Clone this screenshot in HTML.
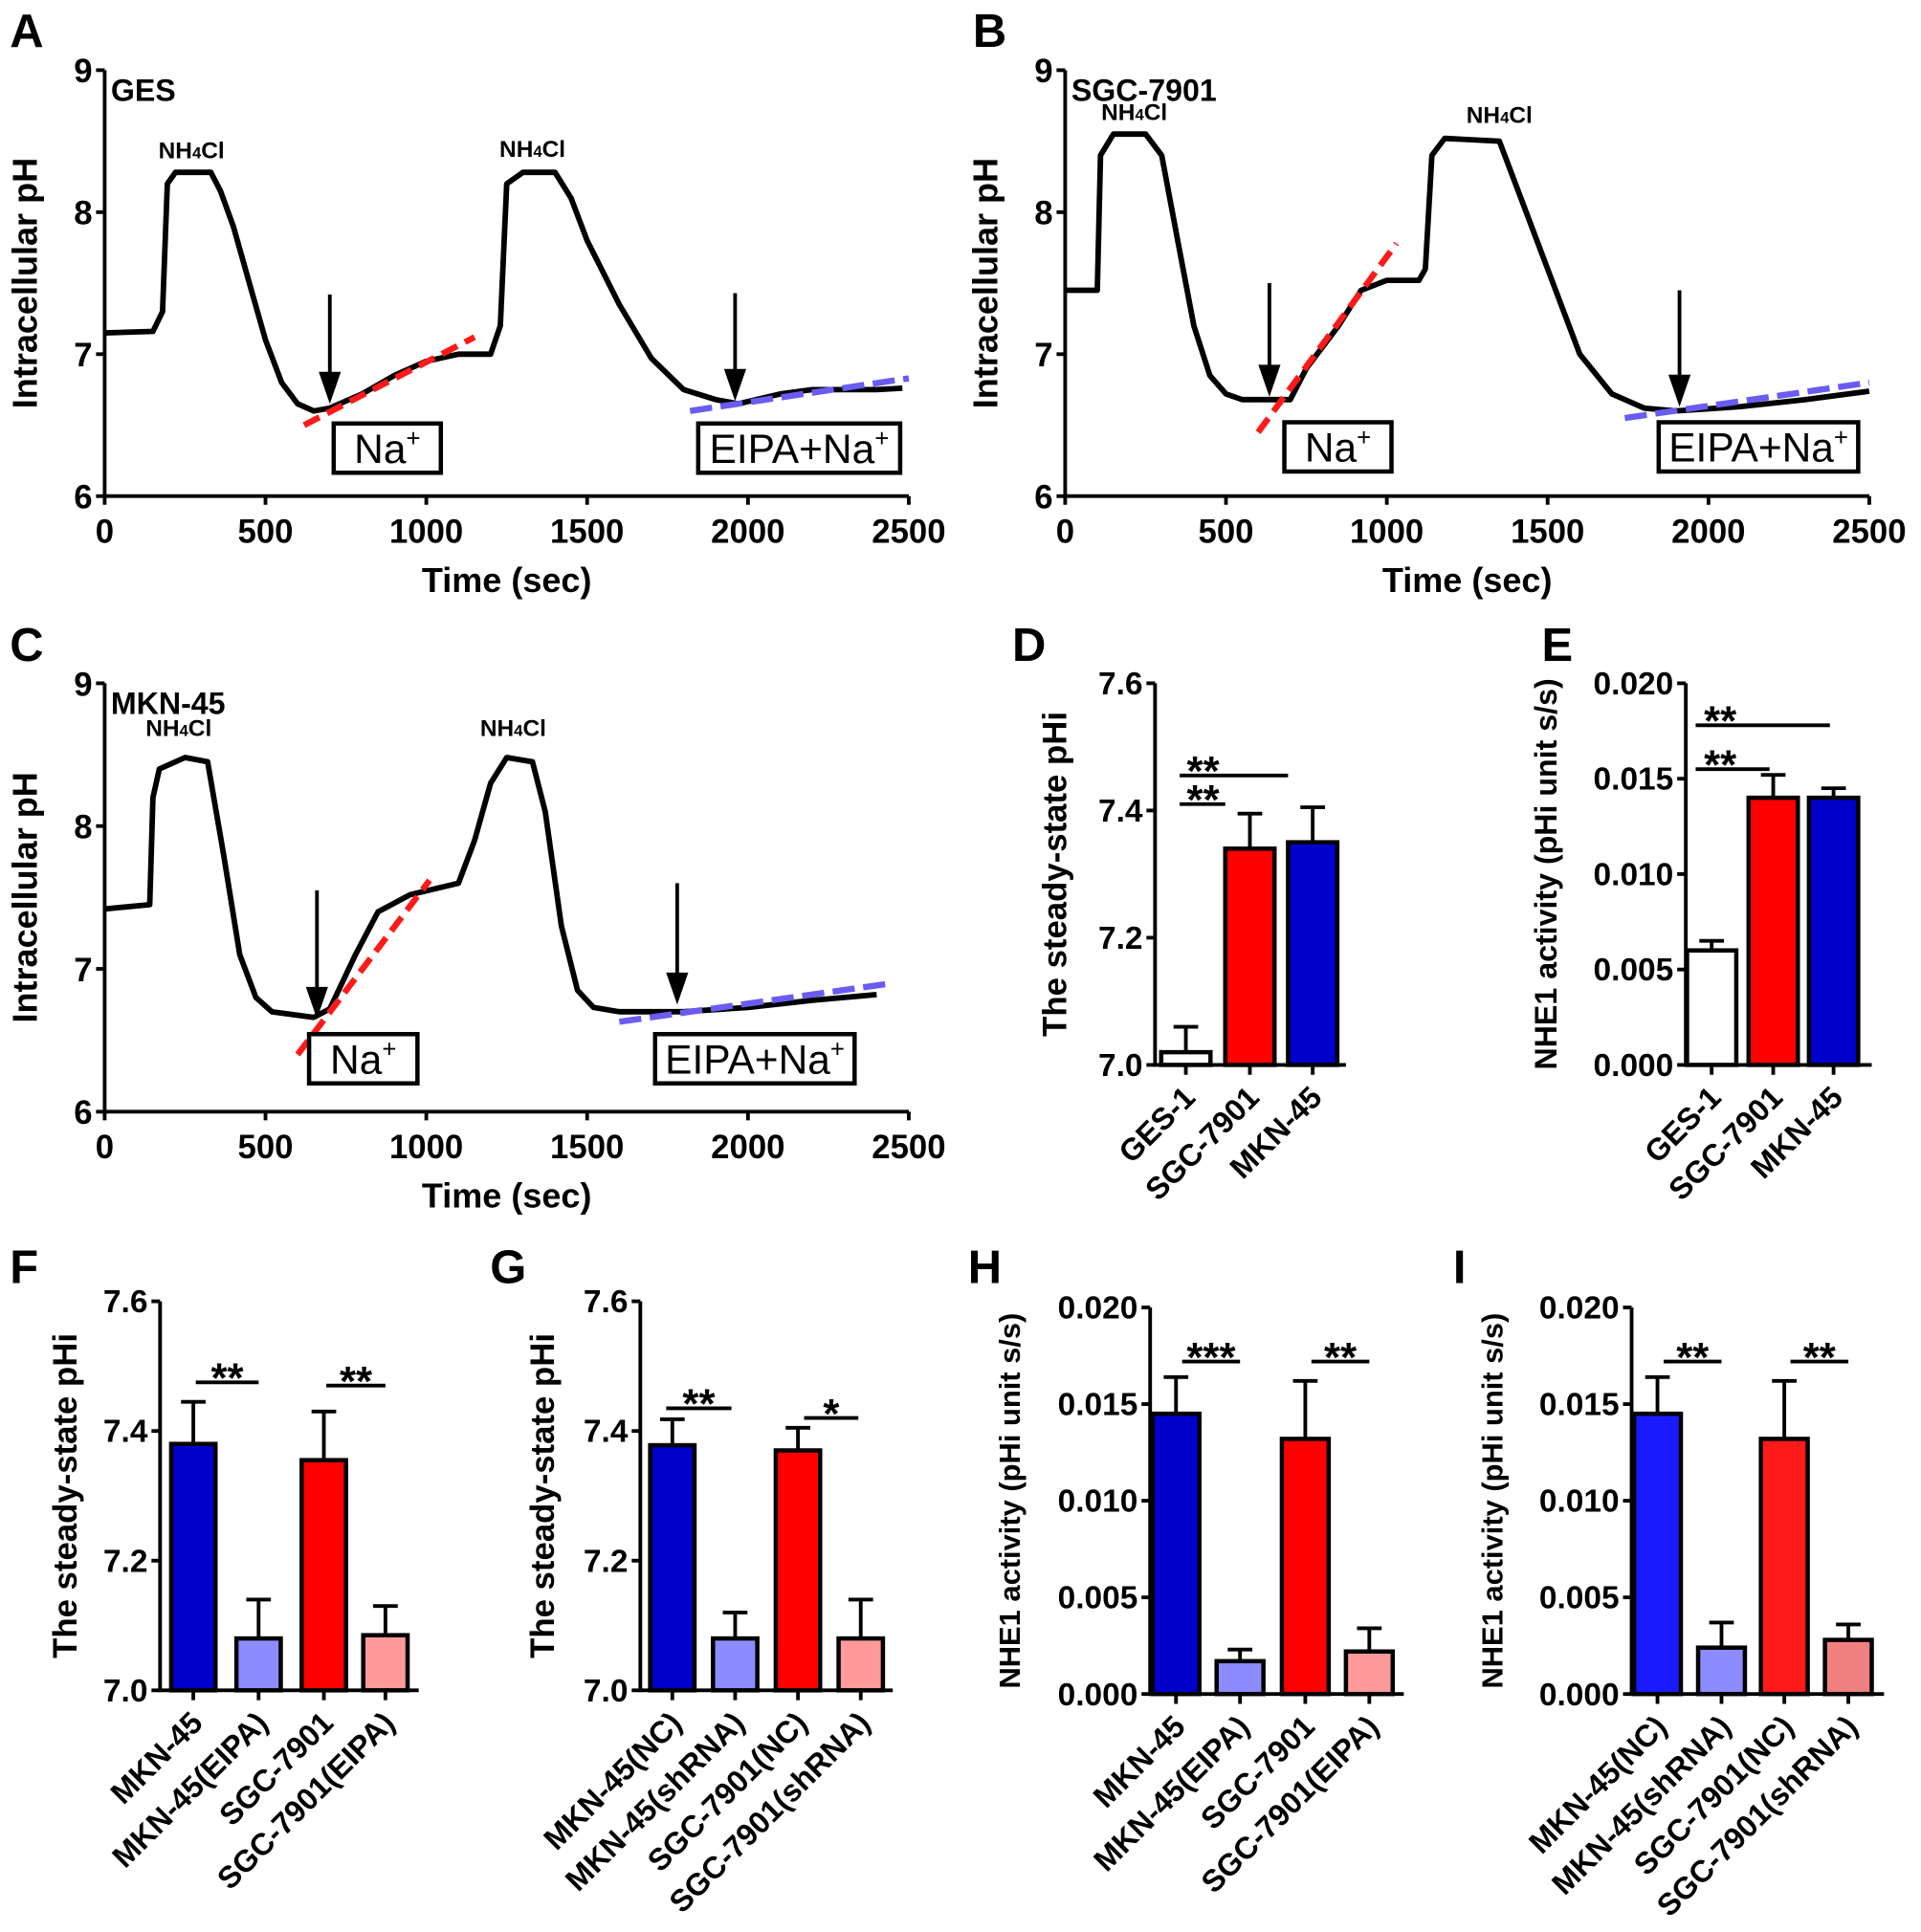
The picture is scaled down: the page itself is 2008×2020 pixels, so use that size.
<!DOCTYPE html>
<html><head><meta charset="utf-8"><style>
html,body{margin:0;padding:0;background:#fff}
svg{display:block}
text{font-family:"Liberation Sans",Arial,sans-serif;font-weight:bold;fill:#000}
</style></head><body>
<svg id="fig" width="2008" height="2020" viewBox="0 0 1560 1569.3" preserveAspectRatio="none" xmlns="http://www.w3.org/2000/svg"></svg>
<script>
// ---- Line trace data (time sec, pH) ----
const traceA_t=[0,150,180,195,220,330,360,400,450,500,550,600,650,700,800,900,1000,1100,1200,1230,1250,1300,1400,1450,1500,1600,1700,1800,1900,1970,2100,2200,2400,2480];
const traceA_v=[7.15,7.16,7.3,8.2,8.28,8.28,8.15,7.9,7.5,7.1,6.8,6.65,6.6,6.62,6.72,6.85,6.95,7.0,7.0,7.2,8.2,8.28,8.28,8.1,7.8,7.35,6.97,6.75,6.68,6.65,6.72,6.75,6.75,6.76];
const traceB_t=[0,100,110,150,250,300,350,400,450,500,550,700,750,850,920,1000,1100,1120,1140,1180,1350,1400,1500,1600,1700,1800,1900,2100,2300,2500];
const traceB_v=[7.45,7.45,8.4,8.55,8.55,8.4,7.8,7.2,6.85,6.72,6.68,6.68,6.9,7.2,7.45,7.52,7.52,7.6,8.4,8.52,8.5,8.2,7.6,7.0,6.72,6.62,6.6,6.63,6.68,6.74];
const traceC_t=[0,140,150,170,250,320,370,420,470,520,650,700,780,850,950,1100,1150,1200,1250,1330,1370,1420,1470,1520,1600,1800,2000,2200,2400];
const traceC_v=[7.42,7.45,8.2,8.4,8.48,8.45,7.8,7.1,6.8,6.7,6.66,6.72,7.1,7.4,7.52,7.6,7.9,8.3,8.48,8.45,8.1,7.3,6.85,6.73,6.7,6.7,6.73,6.78,6.82];
// fit lines [t0,v0,t1,v1]
const redA=[620,6.5,1150,7.12], blueA=[1820,6.6,2500,6.83];
const redB=[600,6.45,1030,7.78], blueB=[1740,6.55,2500,6.8];
const redC=[600,6.4,1010,7.62], blueC=[1600,6.63,2450,6.9];
// arrows [t, fromV, toV]
const arrowsA=[[700,7.42,6.65],[1960,7.43,6.67]];
const arrowsB=[[635,7.5,6.7],[1910,7.45,6.63]];
const arrowsC=[[660,7.55,6.65],[1780,7.6,6.75]];
const timeTicks=[0,500,1000,1500,2000,2500];
const phTicks=[6,7,8,9];

// ---- Bar data ----
const catsD=["GES-1","SGC-7901","MKN-45"];
const valsD=[7.02,7.34,7.35]; const errD=[0.04,0.055,0.055];
const valsE=[0.006,0.014,0.014]; const errE=[0.0005,0.0012,0.0005];
const catsF=["MKN-45","MKN-45(EIPA)","SGC-7901","SGC-7901(EIPA)"];
const valsF=[7.38,7.08,7.355,7.085]; const errF=[0.065,0.06,0.075,0.045];
const catsG=["MKN-45(NC)","MKN-45(shRNA)","SGC-7901(NC)","SGC-7901(shRNA)"];
const valsG=[7.378,7.08,7.37,7.08]; const errG=[0.04,0.04,0.035,0.06];
const valsH=[0.0145,0.0017,0.0132,0.0022]; const errH=[0.0019,0.0006,0.003,0.0012];
const valsI=[0.0145,0.0024,0.0132,0.0028]; const errI=[0.0019,0.0013,0.003,0.0008];
const phiTicks=["7.0","7.2","7.4","7.6"];
const actTicks=["0.000","0.005","0.010","0.015","0.020"];

const NS="http://www.w3.org/2000/svg";
const svg=document.getElementById('fig');
function el(tag,attrs,parent,txt){const e=document.createElementNS(NS,tag);for(const k in attrs)e.setAttribute(k,attrs[k]);if(txt!==undefined)e.textContent=txt;(parent||svg).appendChild(e);return e;}
function letter(ch,x,y){const t=el('text',{x:x,y:y,'font-size':38},svg,ch);

}

function linePanel(o){
  const g=el('g',{});
  
  
  const sx=t=>o.x0+(t-0)/2500*(o.x1-o.x0);
  const sy=v=>o.yb+(v-6)/3*(o.yt-o.yb);
  const ax=el('path',{d:`M${o.x0},${o.yt} V${o.yb} H${o.x1}`,stroke:'#000','stroke-width':3,fill:'none'},g);
   
  phTicks.forEach(v=>{el('line',{x1:o.x0-7,x2:o.x0,y1:sy(v),y2:sy(v),stroke:'#000','stroke-width':3},g);
    const t=el('text',{x:o.x0-10,y:sy(v)+10,'font-size':27,'text-anchor':'end'},g,v);
     });
  timeTicks.forEach(v=>{el('line',{x1:sx(v),x2:sx(v),y1:o.yb,y2:o.yb+7,stroke:'#000','stroke-width':3},g);
    const t=el('text',{x:sx(v),y:o.yb+38,'font-size':27,'text-anchor':'middle'},g,v);
     });
  const xt=el('text',{x:(o.x0+o.x1)/2,y:o.yb+78,'font-size':28,'text-anchor':'middle'},g,'Time (sec)');
   
  const cy=(o.yt+o.yb)/2, cx=o.x0-55;
  const yt=el('text',{x:cx,y:cy,'font-size':28,'text-anchor':'middle',transform:`rotate(-90 ${cx} ${cy})`},g,'Intracellular pH');
   
  let d=''; o.t.forEach((t,i)=>{d+=(i?'L':'M')+sx(t).toFixed(1)+','+sy(o.v[i]).toFixed(1);});
  const tr=el('path',{d:d,stroke:'#000','stroke-width':4.5,fill:'none','stroke-linejoin':'round'},g);
   
  const r=el('line',{x1:sx(o.red[0]),y1:sy(o.red[1]),x2:sx(o.red[2]),y2:sy(o.red[3]),stroke:'#ff1a1a','stroke-width':5,'stroke-dasharray':'14,7'},g);
   
  const b=el('line',{x1:sx(o.blue[0]),y1:sy(o.blue[1]),x2:sx(o.blue[2]),y2:sy(o.blue[3]),stroke:'#6a5cf0','stroke-width':5,'stroke-dasharray':'18,7'},g);
   
  o.arrows.forEach(a=>{const x=sx(a[0]),y0=sy(a[1]),y1=sy(a[2]);
    const ag=el('g',{},g);  
    el('line',{x1:x,x2:x,y1:y0,y2:y1-22,stroke:'#000','stroke-width':3},ag);
    el('path',{d:`M${x-9},${y1-26} L${x+9},${y1-26} L${x},${y1} Z`,fill:'#000'},ag);});
  o.nh.forEach(n=>{const t=el('text',{x:sx(n[0]),y:sy(n[1]),'font-size':19,'text-anchor':'middle'},g);
     
    t.innerHTML='NH<tspan font-size="13">4</tspan>Cl';});
  const cl=el('text',{x:o.x0+5,y:o.yt+25,'font-size':25},g,o.cell);
   
  o.boxes.forEach(bx=>{const bg=el('g',{},g);  
    el('rect',{x:bx[0],y:bx[1],width:bx[2],height:40,fill:'#fff',stroke:'#000','stroke-width':3.5},bg);
    const t=el('text',{x:bx[0]+bx[2]/2,y:bx[1]+32,'font-size':33,'text-anchor':'middle',style:'font-weight:normal'},bg);
    t.innerHTML=bx[3]+'<tspan font-size="20" dy="-13">+</tspan>';});
}

function barPanel(o){
  const g=el('g',{});
  
  
  const sy=v=>o.yb+(v-o.min)/(o.max-o.min)*(o.yt-o.yb);
  const ax=el('path',{d:`M${o.x0},${o.yt} V${o.yb} H${o.x1}`,stroke:'#000','stroke-width':3,fill:'none'},g);
   
  o.ticks.forEach(s=>{const v=parseFloat(s),y=sy(v);
    el('line',{x1:o.x0-7,x2:o.x0,y1:y,y2:y,stroke:'#000','stroke-width':3},g);
    const t=el('text',{x:o.x0-10,y:y+9,'font-size':26,'text-anchor':'end'},g,s);
     });
  const cy=(o.yt+o.yb)/2, cx=o.tx;
  const yt=el('text',{x:cx,y:cy,'font-size':o.tfs||27,'text-anchor':'middle',transform:`rotate(-90 ${cx} ${cy})`},g,o.title);
   
  o.vals.forEach((v,i)=>{const c=o.centers[i],w=o.bw;
    const y=sy(v),ye=sy(v+o.err[i]);
    el('line',{x1:c,x2:c,y1:y,y2:ye,stroke:'#000','stroke-width':3},g);
    el('line',{x1:c-10,x2:c+10,y1:ye,y2:ye,stroke:'#000','stroke-width':3},g);
    const r=el('rect',{x:c-w/2,y:y,width:w,height:o.yb-y,fill:o.colors[i],stroke:'#000','stroke-width':3.5},g);
    
    
    el('line',{x1:c,x2:c,y1:o.yb,y2:o.yb+8,stroke:'#000','stroke-width':3},g);
    const lx=c+9,ly=o.yb+28;
    const t=el('text',{x:lx,y:ly,'font-size':o.lfs||25,'text-anchor':'end',transform:`rotate(-45 ${lx} ${ly})`},g,o.cats[i]);
     });
  o.sig.forEach(s=>{const y=sy(s[2]);const xa=o.centers[s[0]]-(s[4]||0),xb=o.centers[s[1]]+(s[5]||0);
    const sg=el('g',{},g);  
    el('line',{x1:xa,x2:xb,y1:y,y2:y,stroke:'#000','stroke-width':3},sg);
    el('text',{x:s[6]!==undefined?s[6]:(xa+xb)/2,y:y+8,'font-size':34,'text-anchor':'middle'},sg,s[3]);});
}

letter('A',8,38); letter('B',790,38); letter('C',8,537); letter('D',822,537); letter('E',1252,537);
letter('F',8,1042); letter('G',398,1042); letter('H',786,1042); letter('I',1180,1042);

linePanel({id:'a',x0:85,x1:738,yt:57,yb:403,t:traceA_t,v:traceA_v,red:redA,blue:blueA,arrows:arrowsA,
  nh:[[270,8.38],[1330,8.39]],cell:'GES',boxes:[[271,344,87,'Na','na-box'],[567,344,164,'EIPA+Na','eipa-na-box']]});
linePanel({id:'b',x0:865,x1:1518,yt:57,yb:403,t:traceB_t,v:traceB_v,red:redB,blue:blueB,arrows:arrowsB,
  nh:[[215,8.65],[1350,8.63]],cell:'SGC-7901',boxes:[[1043,343,87,'Na','na-box'],[1347,343,162,'EIPA+Na','eipa-na-box']]});
linePanel({id:'c',x0:85,x1:738,yt:555,yb:903,t:traceC_t,v:traceC_v,red:redC,blue:blueC,arrows:arrowsC,
  nh:[[230,8.63],[1270,8.63]],cell:'MKN-45',boxes:[[251,840,88,'Na','na-box'],[532,840,162,'EIPA+Na','eipa-na-box']]});

barPanel({id:'d',x0:938,x1:1093,yt:555,yb:865,min:7.0,max:7.6,ticks:phiTicks,tx:866,title:'The steady-state pHi',
  cats:catsD,vals:valsD,err:errD,centers:[963,1015,1066],bw:40,colors:['#fff','#ff0000','#0000cc'],
  sig:[[0,1,7.41,'**',5,-20,977],[0,2,7.455,'**',5,-20,977]]});
barPanel({id:'e',x0:1369,x1:1520,yt:555,yb:865,min:0,max:0.02,ticks:actTicks,tx:1264,tfs:25,title:'NHE1 activity (pHi unit s/s)',
  cats:catsD,vals:valsE,err:errE,centers:[1390,1440,1489],bw:40,colors:['#fff','#ff0000','#0000cc'],
  sig:[[0,1,0.0155,'**',13,-3,1397],[0,2,0.0178,'**',13,-3,1397]]});
barPanel({id:'f',x0:130,x1:340,yt:1057,yb:1373,min:7.0,max:7.6,ticks:phiTicks,tx:62,title:'The steady-state pHi',
  cats:catsF,vals:valsF,err:errF,centers:[157,210,263,313],bw:36,colors:['#0000cc','#8c8cff','#ff0000','#ff9a9a'],
  sig:[[0,1,7.475,'**',-2,0],[2,3,7.47,'**',-2,0]]});
barPanel({id:'g',x0:520,x1:725,yt:1057,yb:1373,min:7.0,max:7.6,ticks:phiTicks,tx:450,title:'The steady-state pHi',
  cats:catsG,vals:valsG,err:errG,centers:[546,597,648,699],bw:36,colors:['#0000cc','#8c8cff','#ff0000','#ff9a9a'],
  sig:[[0,1,7.435,'**',5,-3],[2,3,7.42,'*',-5,-2]]});
barPanel({id:'h',x0:934,x1:1140,yt:1062,yb:1376,min:0,max:0.02,ticks:actTicks,tx:828,tfs:24,title:'NHE1 activity (pHi unit s/s)',
  cats:catsF,vals:valsH,err:errH,centers:[955,1007,1060,1112],bw:38,colors:['#0000cc','#8c8cff','#ff0000','#ff9a9a'],
  sig:[[0,1,0.0172,'***',-5,0],[2,3,0.0172,'**',-5,0]]});
barPanel({id:'i',x0:1325,x1:1530,yt:1062,yb:1376,min:0,max:0.02,ticks:actTicks,tx:1220,tfs:24,title:'NHE1 activity (pHi unit s/s)',
  cats:catsG,vals:valsI,err:errI,centers:[1346,1398,1449,1501],bw:38,colors:['#1a1aff','#8c8cff','#ff1a1a','#f08080'],
  sig:[[0,1,0.0172,'**',-5,0],[2,3,0.0172,'**',-5,0]]});
</script>
</body></html>
